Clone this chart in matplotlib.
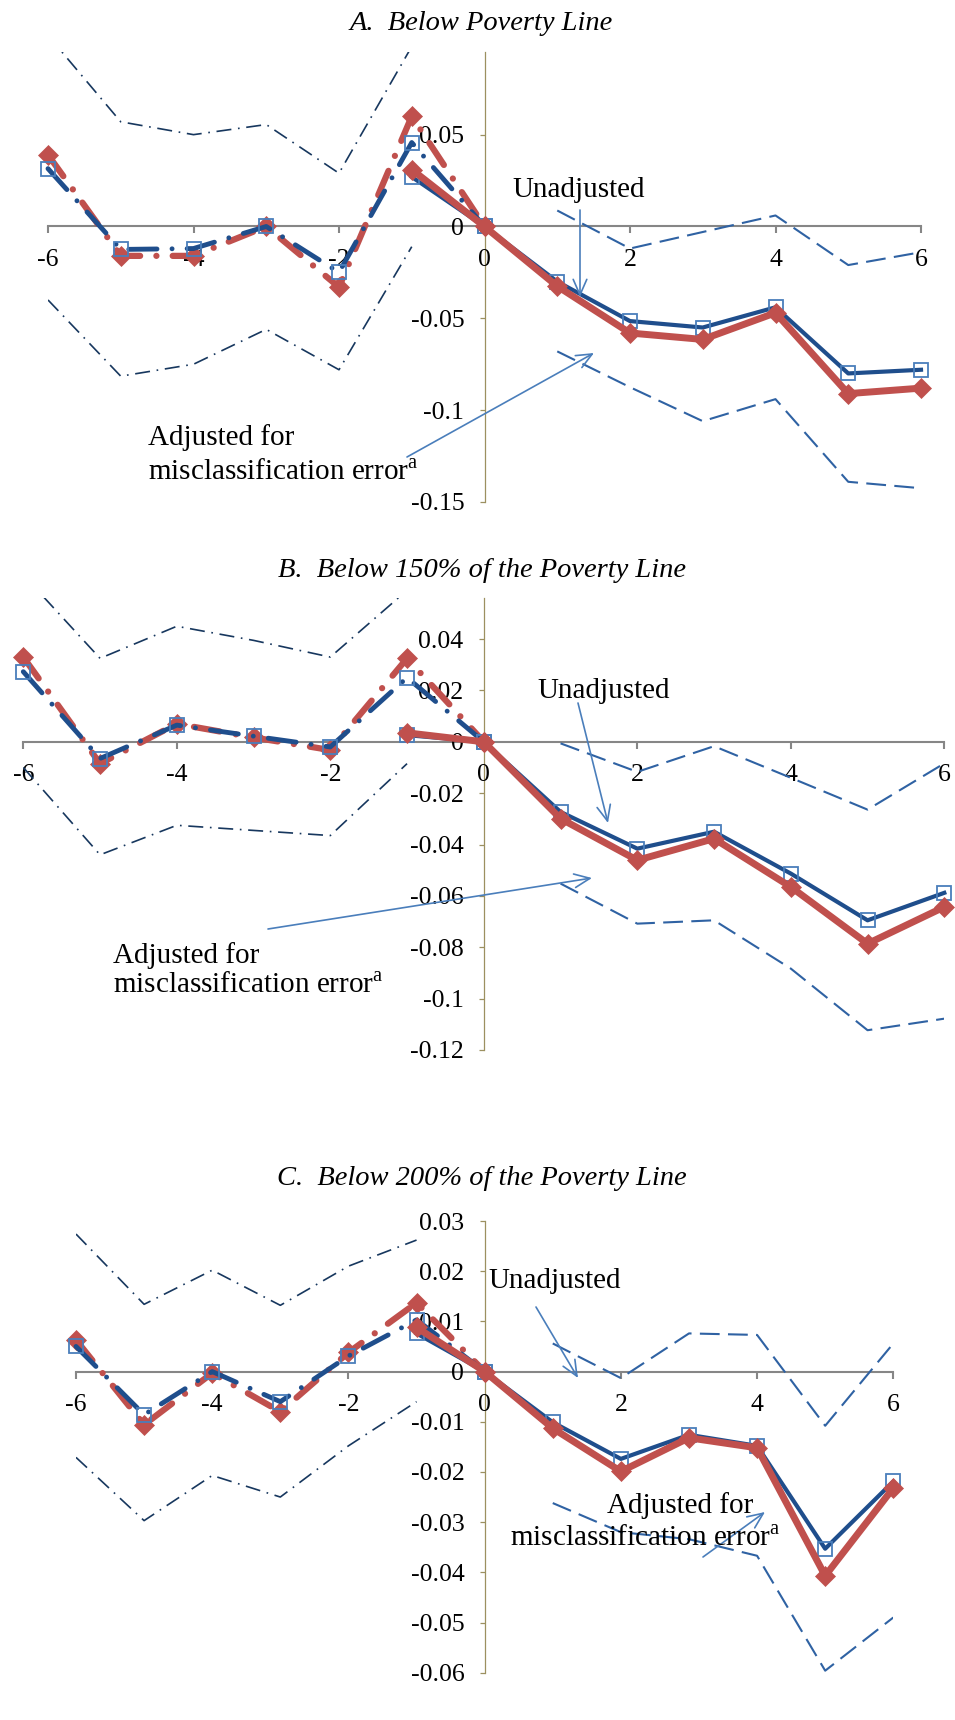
import matplotlib
matplotlib.use("Agg")
import matplotlib.pyplot as plt
import numpy as np

plt.rcParams['font.family'] = ['Liberation Serif', 'DejaVu Serif']
plt.rcParams['mathtext.fontset'] = 'custom'
plt.rcParams['mathtext.rm'] = 'Liberation Serif'
plt.rcParams['axes.unicode_minus'] = False

# x positions (years relative to event)
x_pre = [-6, -5, -4, -3, -2, -1, 0]
x_post = [-1, 0, 1, 2, 3, 4, 5, 6]
x_ci_pre = [-6, -5, -4, -3, -2, -1]
x_ci_post = [1, 2, 3, 4, 5, 6]

# Panel A: below poverty line
pre_unadj_A = [0.0315, -0.0125, -0.012, 0.0, -0.025, 0.0457, 0.0]
pre_adj_A = [0.039, -0.016, -0.016, 0.0, -0.033, 0.060, 0.0]
ci_pre_hi_A = [0.104, 0.057, 0.050, 0.0555, 0.029, 0.098]
ci_pre_lo_A = [-0.040, -0.0815, -0.075, -0.056, -0.078, -0.011]
post_unadj_A = [0.027, 0.0, -0.030, -0.0515, -0.055, -0.044, -0.080, -0.078]
post_adj_A = [0.031, 0.0, -0.0325, -0.058, -0.0615, -0.047, -0.091, -0.088]
ci_post_hi_A = [0.0087, -0.012, -0.003, 0.006, -0.021, -0.014]
ci_post_lo_A = [-0.068, -0.0875, -0.106, -0.094, -0.139, -0.1425]

# Panel B: below 150% of poverty line
pre_unadj_B = [0.0273, -0.0065, 0.0065, 0.0022, -0.002, 0.025, 0.0]
pre_adj_B = [0.033, -0.0085, 0.007, 0.0017, -0.0032, 0.0325, 0.0]
ci_pre_hi_B = [0.065, 0.0325, 0.045, 0.0395, 0.033, 0.059]
ci_pre_lo_B = [-0.010, -0.044, -0.0325, -0.0345, -0.0365, -0.0085]
post_unadj_B = [0.0026, 0.0, -0.0273, -0.0416, -0.035, -0.0513, -0.0695, -0.0588]
post_adj_B = [0.0035, 0.0, -0.0299, -0.0461, -0.0377, -0.0565, -0.0786, -0.0643]
ci_post_hi_B = [-0.0006, -0.0117, -0.0017, -0.014, -0.0264, -0.0084]
ci_post_lo_B = [-0.0552, -0.0708, -0.0695, -0.0883, -0.1123, -0.1078]

# Panel C: below 200% of poverty line
pre_unadj_C = [0.005, -0.0086, 0.0, -0.006, 0.0031, 0.0103, 0.0]
pre_adj_C = [0.0063, -0.0106, -0.0003, -0.008, 0.0038, 0.0137, 0.0]
ci_pre_hi_C = [0.0274, 0.0134, 0.0202, 0.0132, 0.021, 0.0262]
ci_pre_lo_C = [-0.0171, -0.0297, -0.0207, -0.025, -0.0148, -0.006]
post_unadj_C = [0.0076, 0.0, -0.0101, -0.0174, -0.0126, -0.0148, -0.0353, -0.0219]
post_adj_C = [0.0088, 0.0, -0.0113, -0.0199, -0.0132, -0.0152, -0.0407, -0.0232]
ci_post_hi_C = [0.0056, -0.0013, 0.0076, 0.0073, -0.0108, 0.0056]
ci_post_lo_C = [-0.0262, -0.032, -0.0334, -0.0367, -0.0596, -0.049]

titles = ["A.  Below Poverty Line",
          "B.  Below 150% of the Poverty Line",
          "C.  Below 200% of the Poverty Line"]

BLUE = '#1F4E8C'
SQ = '#4A7EBB'
RED = '#C0504D'
NAVY = '#17375E'
CIBLUE = '#2F62A3'
ARROW = '#4A7EBB'
W, H = 955, 1720

fig = plt.figure(figsize=(W / 100, H / 100), dpi=100)


def fp(px, py):
    # figure pixel coords measured from top-left
    return (px, H - py)


def panel(rect, ylim, yticks, data):
    pu, pa, chi, clo, qu, qa, dhi, dlo = data
    ax = fig.add_axes(rect)
    ax.set_xlim(-6, 6)
    ax.set_ylim(*ylim)
    # confidence bands
    ax.plot(x_ci_pre, chi, color=NAVY, lw=1.2, dashes=(9, 4, 1, 4))
    ax.plot(x_ci_pre, clo, color=NAVY, lw=1.2, dashes=(9, 4, 1, 4))
    ax.plot(x_ci_post, dhi, color=CIBLUE, lw=1.5, dashes=(9.5, 4))
    ax.plot(x_ci_post, dlo, color=CIBLUE, lw=1.5, dashes=(9.5, 4))
    # pre-period (dash-dot)
    ax.plot(x_pre, pa, color=RED, lw=4.5, dashes=(4.2, 2.6, 0.01, 2.6),
            dash_capstyle='round', marker='D', ms=10.5, mfc=RED, mec=RED,
            mew=0.5, clip_on=False)
    ax.plot(x_pre, pu, color=BLUE, lw=3.5, dashes=(5.8, 3.1, 0.01, 3.1),
            dash_capstyle='round', marker='s', ms=9.5, mfc='none', mec=SQ,
            mew=1.3, clip_on=False)
    # post-period (solid)
    ax.plot(x_post, qu, color=BLUE, lw=3, marker='s', ms=9.5, mfc='none',
            mec=SQ, mew=1.3, clip_on=False)
    ax.plot(x_post, qa, color=RED, lw=5, marker='D', ms=10.5, mfc=RED,
            mec=RED, mew=0.5, clip_on=False)

    for s in ['top', 'right']:
        ax.spines[s].set_visible(False)
    ax.spines['left'].set_position(('data', 0))
    ax.spines['bottom'].set_position(('data', 0))
    ax.spines['left'].set_color('#9C9060')
    ax.spines['left'].set_linewidth(0.9)
    ax.spines['bottom'].set_color('#868686')
    ax.spines['bottom'].set_linewidth(1.5)
    ax.spines['left'].set_zorder(1)
    ax.spines['bottom'].set_zorder(1)
    ax.set_xticks([-6, -4, -2, 0, 2, 4, 6])
    ax.set_xticklabels(['-6', '-4', '-2', '0', '2', '4', '6'])
    ax.set_yticks(yticks)
    ax.set_yticklabels([f"{v:g}" for v in np.round(yticks, 3)])
    ax.tick_params(axis='x', direction='out', length=5, width=1.5,
                   color='#868686', labelsize=18.5, pad=11)
    ax.tick_params(axis='y', direction='out', length=3.6, width=0.9,
                   color='#9C9060', labelsize=18.5, pad=11)
    ax.patch.set_visible(False)
    return ax


panel([48 / W, 1 - 502 / H, 873 / W, 450 / H], (-0.15, 0.095),
      [-0.15, -0.1, -0.05, 0, 0.05],
      (pre_unadj_A, pre_adj_A, ci_pre_hi_A, ci_pre_lo_A,
       post_unadj_A, post_adj_A, ci_post_hi_A, ci_post_lo_A))
panel([23.3 / W, 1 - 1050 / H, 921 / W, 452 / H], (-0.12, 0.056),
      [-0.12, -0.1, -0.08, -0.06, -0.04, -0.02, 0, 0.02, 0.04],
      (pre_unadj_B, pre_adj_B, ci_pre_hi_B, ci_pre_lo_B,
       post_unadj_B, post_adj_B, ci_post_hi_B, ci_post_lo_B))
panel([76 / W, 1 - 1672.7 / H, 817.3 / W, 451.7 / H], (-0.06, 0.03),
      [-0.06, -0.05, -0.04, -0.03, -0.02, -0.01, 0, 0.01, 0.02, 0.03],
      (pre_unadj_C, pre_adj_C, ci_pre_hi_C, ci_pre_lo_C,
       post_unadj_C, post_adj_C, ci_post_hi_C, ci_post_lo_C))

# titles
for t, py in zip(titles, [30, 577, 1185]):
    fig.text(481.5 / W, 1 - py / H, t, ha='center', va='baseline',
             fontsize=20.5, style='italic')

# annotations
aprops = dict(arrowstyle='->,head_length=0.8,head_width=0.35', color=ARROW,
              lw=1.2, shrinkA=0, shrinkB=0, mutation_scale=14)

unadj_txt = [(512, 197), (537, 698), (488, 1288)]
unadj_arrow = [((580, 210), (580, 297)), ((578, 703), (608, 823)),
               ((536, 1307), (578, 1378))]
adj_line1 = [(148, 445), (113, 963), (607, 1513)]
adj_line2 = [(148, 480), (113, 993), (510, 1546)]
adj_arrow = [((407, 457), (594, 353)), ((268, 929), (592, 878)),
             ((703, 1557), (765, 1512))]

for i in range(3):
    fig.text(*[v / d for v, d in zip(fp(*unadj_txt[i]), (W, H))],
             'Unadjusted', fontsize=21, va='baseline', ha='left')
    fig.text(*[v / d for v, d in zip(fp(*adj_line1[i]), (W, H))],
             'Adjusted for', fontsize=21, va='baseline', ha='left')
    fig.text(*[v / d for v, d in zip(fp(*adj_line2[i]), (W, H))],
             r'misclassification error$^{\mathrm{a}}$', fontsize=21,
             va='baseline', ha='left')
    for (a, b) in (unadj_arrow[i], adj_arrow[i]):
        fig.add_artist(matplotlib.patches.FancyArrowPatch(
            fp(*a), fp(*b), transform=None, **aprops))

fig.savefig('out.png', dpi=100)
